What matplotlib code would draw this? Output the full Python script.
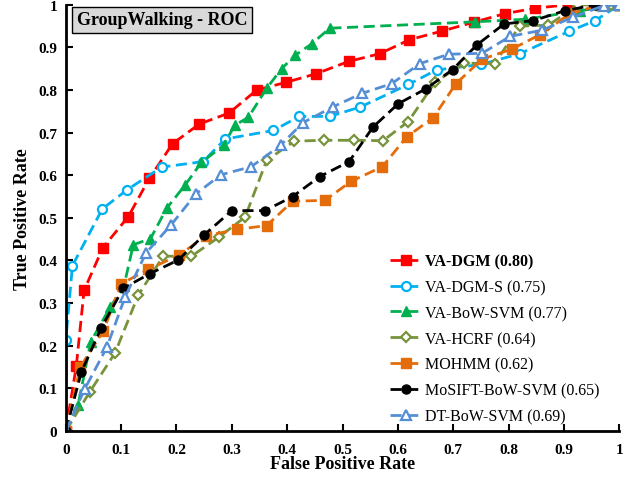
import numpy as np
import matplotlib
matplotlib.use('Agg')
from matplotlib import pyplot as plt
from matplotlib.ticker import FuncFormatter

plt.rcParams['font.family'] = ['Liberation Serif', 'DejaVu Serif']

# ROC points (FPR, TPR)
dgm_x = [0, 0.019, 0.033, 0.067, 0.113, 0.151, 0.193, 0.241, 0.295, 0.345, 0.398, 0.452,
         0.511, 0.567, 0.621, 0.679, 0.737, 0.793, 0.848, 0.908, 0.97, 1.0]
dgm_y = [0, 0.153, 0.33, 0.43, 0.503, 0.593, 0.674, 0.72, 0.746, 0.80, 0.818, 0.838,
         0.867, 0.885, 0.918, 0.938, 0.959, 0.979, 0.992, 1.0, 1.0, 1.0]

dgms_x = [0, 0, 0.012, 0.066, 0.111, 0.173, 0.248, 0.288, 0.375, 0.422, 0.477, 0.532,
          0.619, 0.67, 0.75, 0.82, 0.91, 0.957, 1.0]
dgms_y = [0, 0.214, 0.388, 0.521, 0.566, 0.619, 0.632, 0.685, 0.705, 0.738, 0.738, 0.76,
          0.813, 0.847, 0.86, 0.885, 0.938, 0.963, 1.0]

bow_x = [0, 0.022, 0.045, 0.08, 0.105, 0.122, 0.153, 0.182, 0.215, 0.245, 0.285, 0.305,
         0.33, 0.363, 0.39, 0.414, 0.444, 0.477, 0.74, 0.83, 0.93, 1.0]
bow_y = [0, 0.06, 0.209, 0.29, 0.34, 0.437, 0.451, 0.522, 0.576, 0.63, 0.67, 0.717,
         0.736, 0.804, 0.85, 0.881, 0.908, 0.945, 0.96, 0.966, 0.986, 1.0]

hcrf_x = [0, 0.043, 0.089, 0.131, 0.176, 0.227, 0.277, 0.324, 0.363, 0.413, 0.467, 0.52,
          0.573, 0.619, 0.667, 0.72, 0.775, 0.82, 0.872, 0.926, 0.985, 1.0]
hcrf_y = [0, 0.091, 0.183, 0.319, 0.41, 0.41, 0.455, 0.502, 0.635, 0.68, 0.682, 0.682,
          0.681, 0.726, 0.818, 0.863, 0.862, 0.95, 0.952, 1.0, 1.0, 1.0]

mohmm_x = [0, 0.026, 0.068, 0.1, 0.149, 0.205, 0.254, 0.31, 0.363, 0.41, 0.468, 0.516,
           0.572, 0.616, 0.664, 0.705, 0.752, 0.806, 0.857, 0.911, 0.966, 1.0]
mohmm_y = [0, 0.15, 0.235, 0.345, 0.379, 0.413, 0.458, 0.473, 0.482, 0.539, 0.541, 0.586,
           0.62, 0.69, 0.735, 0.815, 0.872, 0.896, 0.93, 0.979, 1.0, 1.0]

mosift_x = [0, 0.028, 0.064, 0.104, 0.152, 0.203, 0.25, 0.3, 0.36, 0.41, 0.459, 0.512,
            0.555, 0.601, 0.651, 0.699, 0.743, 0.792, 0.845, 0.902, 0.957, 1.0]
mosift_y = [0, 0.138, 0.242, 0.335, 0.369, 0.401, 0.46, 0.517, 0.517, 0.55, 0.597, 0.632,
            0.713, 0.768, 0.803, 0.848, 0.906, 0.955, 0.963, 0.986, 1.0, 1.0]

dt_x = [0, 0.034, 0.074, 0.107, 0.145, 0.19, 0.235, 0.28, 0.335, 0.388, 0.428, 0.482,
        0.535, 0.589, 0.64, 0.692, 0.752, 0.803, 0.86, 0.917, 0.972, 1.0]
dt_y = [0, 0.098, 0.196, 0.314, 0.418, 0.483, 0.556, 0.601, 0.62, 0.67, 0.723, 0.76,
        0.792, 0.815, 0.862, 0.884, 0.886, 0.926, 0.94, 0.971, 0.998, 1.0]

labels = ['VA-DGM (0.80)', 'VA-DGM-S (0.75)', 'VA-BoW-SVM (0.77)', 'VA-HCRF (0.64)',
          'MOHMM (0.62)', 'MoSIFT-BoW-SVM (0.65)', 'DT-BoW-SVM (0.69)']

fig = plt.figure(figsize=(6.39, 4.81), dpi=100)
ax = fig.add_axes([0.103, 0.102, 0.866, 0.886])

dash = (4, 2)
ax.plot(dgm_x, dgm_y, color='#ff0000', ls='--', dashes=dash, lw=2, marker='s', ms=6.5,
        label=labels[0])
ax.plot(dgms_x, dgms_y, color='#00b0f0', ls='--', dashes=dash, lw=2, marker='o', ms=6.5,
        mfc='white', mew=1.6, label=labels[1])
ax.plot(bow_x, bow_y, color='#00b050', ls='--', dashes=dash, lw=2, marker='^', ms=6.5,
        label=labels[2])
ax.plot(hcrf_x, hcrf_y, color='#77933c', ls='--', dashes=dash, lw=2, marker='D', ms=5.5,
        mfc='white', mew=1.6, label=labels[3])
ax.plot(mohmm_x, mohmm_y, color='#e46c0a', ls='--', dashes=dash, lw=2, marker='s', ms=6.5,
        label=labels[4])
ax.plot(mosift_x, mosift_y, color='black', ls='--', dashes=dash, lw=2, marker='o', ms=6.5,
        label=labels[5])
ax.plot(dt_x, dt_y, color='#558ed5', ls='--', dashes=dash, lw=2, marker='^', ms=7.5,
        mfc='white', mew=1.6, label=labels[6])

ax.set_xlim(0, 1)
ax.set_ylim(0, 1)
ax.set_xticks(np.arange(0, 1.01, 0.1))
ax.set_yticks(np.arange(0, 1.01, 0.1))
fmt = FuncFormatter(lambda v, p: '%g' % round(v, 1))
ax.xaxis.set_major_formatter(fmt)
ax.yaxis.set_major_formatter(fmt)
ax.tick_params(direction='in', length=5, width=1.5, labelsize=11, pad=6)
ax.tick_params(axis='x', pad=9)
for t in ax.get_xticklabels() + ax.get_yticklabels():
    t.set_fontweight('bold')
ax.spines['top'].set_visible(False)
ax.spines['right'].set_visible(False)
ax.spines['left'].set_linewidth(2)
ax.spines['bottom'].set_linewidth(2)
for s in ax.spines.values():
    s.set_clip_on(False)

ax.set_xlabel('False Positive Rate', fontsize=13, fontweight='bold', labelpad=-1)
ax.set_ylabel('True Positive Rate', fontsize=13, fontweight='bold', labelpad=5)

ax.text(0.02, 0.985, 'GroupWalking - ROC', transform=ax.transAxes, fontsize=13,
        fontweight='bold', va='top', ha='left',
        bbox=dict(boxstyle='square,pad=0.25', fc='#d9d9d9', ec='black', lw=1))

leg = ax.legend(loc='upper left', bbox_to_anchor=(0.575, 0.432), frameon=False,
                fontsize=11.5, labelspacing=0.62, handlelength=2.0, handletextpad=0.15,
                borderaxespad=0)
leg.get_texts()[0].set_fontweight('bold')

fig.savefig('out.png', dpi=100)
